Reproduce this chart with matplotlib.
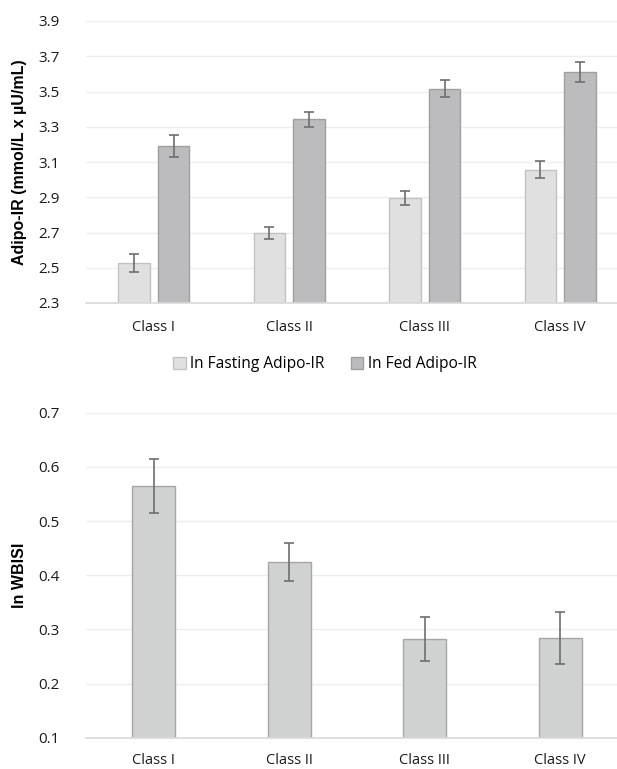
import matplotlib.pyplot as plt
import numpy as np

classes = ["Class I", "Class II", "Class III", "Class IV"]

# top panel: Adipo-IR
fasting = [2.527, 2.699, 2.897, 3.056]
fasting_err = [0.050, 0.034, 0.041, 0.047]
fed = [3.192, 3.342, 3.516, 3.611]
fed_err = [0.062, 0.041, 0.049, 0.057]

# bottom panel: WBISI
wbisi = [0.565, 0.425, 0.282, 0.284]
wbisi_err = [0.050, 0.035, 0.041, 0.048]

plt.rcParams['font.family'] = ['Open Sans', 'DejaVu Sans']

fig = plt.figure(figsize=(6.17, 7.69), dpi=100)

left = 86 / 617
width = 542 / 617
ax1 = fig.add_axes([left, 466 / 769, width, 282 / 769])
ax2 = fig.add_axes([left, 31.3 / 769, width, 325 / 769])

x = np.arange(len(classes))
err_kw = dict(ecolor='#6e6e6e', elinewidth=1.2, capsize=3.5, capthick=1.2)

bw = 0.232
gap = 0.06
ax1.bar(x - (bw + gap) / 2, fasting, bw, yerr=fasting_err, color='#e0e0e0',
        edgecolor='#c2c2c2', linewidth=1, error_kw=err_kw, label='ln Fasting Adipo-IR', zorder=3)
ax1.bar(x + (bw + gap) / 2, fed, bw, yerr=fed_err, color='#bcbcbe',
        edgecolor='#a0a0a0', linewidth=1, error_kw=err_kw, label='ln Fed Adipo-IR', zorder=3)
ax1.set_ylim(2.3, 3.9)
ax1.set_yticks(np.arange(2.3, 3.91, 0.2))
ax1.set_yticklabels([f"{v:.1f}" for v in np.arange(2.3, 3.91, 0.2)])

ax2.bar(x, wbisi, 0.314, yerr=wbisi_err, color='#d0d1d1', edgecolor='#a6a6a6',
        linewidth=1, error_kw=err_kw, zorder=3)
ax2.set_ylim(0.1, 0.7)
ax2.set_yticks(np.arange(0.1, 0.71, 0.1))
ax2.set_yticklabels([f"{v:.1f}" for v in np.arange(0.1, 0.71, 0.1)])

for ax, pad in [(ax1, 12), (ax2, 11)]:
    ax.set_xlim(-0.5, 3.5)
    ax.set_xticks(x)
    ax.set_xticklabels(classes)
    ax.tick_params(axis='x', length=0, pad=pad, labelsize=10.5, colors='#1a1a1a')
    ax.tick_params(axis='y', length=0, pad=19, labelsize=11, colors='#1a1a1a')
    ax.grid(axis='y', color='#eeeeee', linewidth=1, zorder=0)
    for s in ['top', 'right', 'left']:
        ax.spines[s].set_visible(False)
    ax.spines['bottom'].set_color('#d9d9d9')
    ax.spines['bottom'].set_linewidth(1.2)
    ax.spines['bottom'].set_zorder(4)

ax1.set_ylabel('Adipo-IR (mmol/L x µU/mL)', fontsize=11.5, fontweight='bold',
               family=['Liberation Sans', 'DejaVu Sans'])
ax2.set_ylabel('ln WBISI', fontsize=11.5, fontweight='bold',
               family=['Liberation Sans', 'DejaVu Sans'])
ax1.yaxis.set_label_coords(-59 / 542, 0.5)
ax2.yaxis.set_label_coords(-59 / 542, 0.5)

handles, labels = ax1.get_legend_handles_labels()
fig.legend(handles, labels, loc='center', bbox_to_anchor=(325 / 617, 1 - 364 / 769),
           ncol=2, frameon=False, fontsize=11.2, handlelength=0.8, handleheight=0.8,
           handletextpad=0.3, columnspacing=1.7)

fig.savefig('out.png', dpi=100)
